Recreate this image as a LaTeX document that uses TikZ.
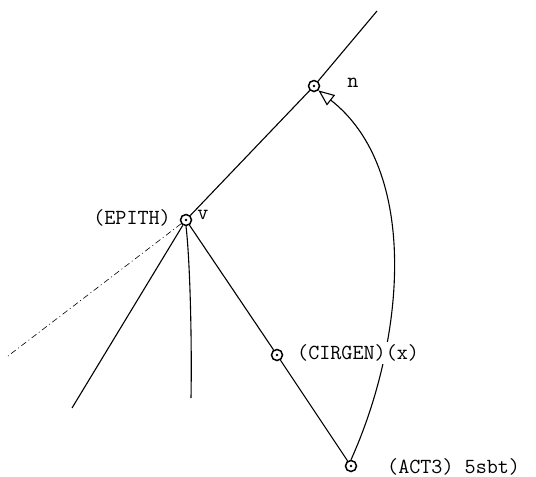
\documentclass[tikz,border=0pt]{standalone}
\usepackage{fontspec}
\usetikzlibrary{arrows.meta}
\begin{document}
\begin{tikzpicture}[x=1pt,y=-1pt,
  vert/.style={circle,draw,line width=1.5pt,minimum size=11pt,inner sep=0pt,
    path picture={\fill (path picture bounding box.center) circle (1.4pt);}},
  lbl/.style={font=\ttfamily\fontsize{21.5}{23}\selectfont,inner sep=0pt},
  edge/.style={line width=1.1pt}]
\useasboundingbox (0,0) rectangle (536,477);
\node[vert] (n) at (314,86) {};
\node[vert] (v) at (186,220) {};
\node[vert] (x) at (277,355) {};
\node[vert] (a) at (351,466) {};
\coordinate (top) at (377,11);
\coordinate (l1) at (8,356);
\coordinate (l2) at (72,408);
\coordinate (l3) at (191,398);
\draw[edge] (top) -- (n);
\draw[edge] (n) -- (v);
\draw[edge] (v) -- (x);
\draw[edge] (x) -- (a);
\draw[edge] (v) -- (l2);
\draw[edge] (v.south) .. controls (190,260) and (192,340) .. (l3);
\draw[line width=0.6pt,dash pattern=on 6pt off 3pt on 1pt off 3pt] (v) -- (l1);
\draw[edge,-{Triangle[open,length=16pt,width=13pt]}] (a.north) .. controls (405,340) and (420,170) .. (n.south east);
\node[lbl] (ln) at (353,83) {n};
\node[lbl] (lv) at (203,215) {v};
\node[lbl,anchor=east] (lep) at (171,218) {(EPITH)};
\node[lbl,anchor=west,fill=white,inner ysep=3pt] (lx) at (297,353) {(CIRGEN)(x)};
\node[lbl,anchor=west] (la) at (387,467) {(ACT3) 5sbt)};
\end{tikzpicture}
\end{document}
